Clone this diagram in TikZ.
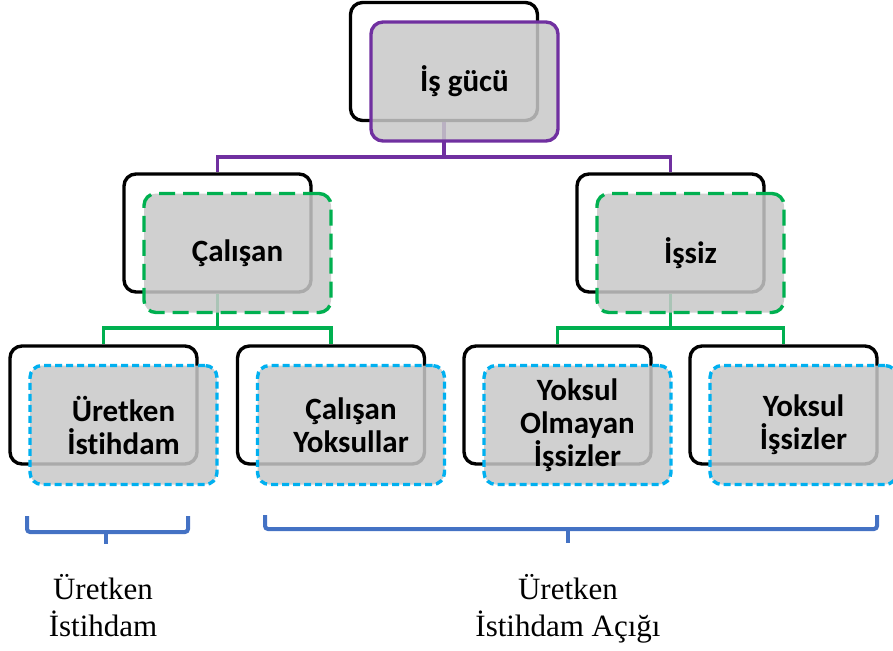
\documentclass[tikz,border=0pt]{standalone}
\usepackage{fontspec}
\setmainfont{Liberation Serif}
\newfontfamily\boxfont[Ligatures=NoCommon]{Carlito}
\usepackage{tikz}
\usetikzlibrary{positioning}
\definecolor{top-purple}{HTML}{7030A0}
\definecolor{mid-green}{HTML}{00B050}
\definecolor{low-blue}{HTML}{00B0F0}
\definecolor{brace-blue}{HTML}{4472C4}
\definecolor{box-gray}{HTML}{C8C8C8}
\tikzset{
    back-box/.style = {draw=black, line width=3.4pt, rectangle, rounded corners=12pt, minimum width=187pt, minimum height=118pt, inner sep=0pt},
    front-box/.style = {fill=box-gray, fill opacity=0.85, text opacity=1, line width=3.4pt, rectangle, rounded corners=12pt, minimum width=187pt, minimum height=119pt, inner sep=0pt, align=center, font=\boxfont\bfseries\fontsize{31}{33}\selectfont},
    purple-box/.style = {front-box, draw=top-purple},
    green-box/.style = {front-box, draw=mid-green, dash pattern=on 16pt off 8pt},
    blue-box/.style = {front-box, draw=low-blue, dash pattern=on 7pt off 4pt},
    purple-line/.style = {draw=top-purple, line width=3.4pt},
    green-line/.style = {draw=mid-green, line width=3.4pt},
    brace-line/.style = {draw=brace-blue, line width=4pt, rounded corners=3pt},
    brace-text/.style = {align=center, font=\fontsize{31}{37}\selectfont},
}
\begin{document}
\begin{tikzpicture}[x=1pt, y=-1pt]
\useasboundingbox (0,0) rectangle (893,650);

% black outlines behind
\node [back-box] (isgucu-back) at (444,61.5) {};
\node [back-box] (calisan-back) at (217.5,233) {};
\node [back-box] (issiz-back) at (670.5,233) {};
\node [back-box] (uretken-back) at (103.5,405) {};
\node [back-box] (yoksullar-back) at (331,405) {};
\node [back-box] (olmayan-back) at (557.5,405) {};
\node [back-box] (yoksulissiz-back) at (783.5,405) {};

% connectors
\coordinate (split-top) at (444,157);
\coordinate (split-left) at (217.5,328);
\coordinate (split-right) at (670.5,328);
\draw [purple-line] (isgucu-back.south) -- (split-top);
\draw [purple-line] (split-top) -| (calisan-back.north);
\draw [purple-line] (split-top) -| (issiz-back.north);
\draw [green-line] (calisan-back.south) -- (split-left);
\draw [green-line] (split-left) -| (uretken-back.north);
\draw [green-line] (split-left) -| (yoksullar-back.north);
\draw [green-line] (issiz-back.south) -- (split-right);
\draw [green-line] (split-right) -| (olmayan-back.north);
\draw [green-line] (split-right) -| (yoksulissiz-back.north);

% gray boxes
\node [purple-box] (isgucu) at (464.5,81.5) {İş gücü};
\node [green-box] (calisan) at (237.5,253) {Çalışan};
\node [green-box] (issiz) at (690.5,253) {İşsiz};
\node [blue-box] (uretken) at (123.5,425) {Üretken\\İstihdam};
\node [blue-box] (yoksullar) at (351,425) {Çalışan\\Yoksullar};
\node [blue-box] (olmayan) at (577.5,425) {Yoksul\\Olmayan\\İşsizler};
\node [blue-box] (yoksulissiz) at (803.5,425) {Yoksul\\İşsizler};

% braces
\draw [brace-line] (27,516) |- (188,532) -- (188,516);
\draw [brace-line] (106,532) -- (106,544);
\draw [brace-line] (265,515) |- (877,529) -- (877,515);
\draw [brace-line] (568,529) -- (568,543);

\node [brace-text] (uretken-label) at (103,606) {Üretken\\İstihdam};
\node [brace-text] (acik-label) at (568,609) {Üretken\\İstihdam Açığı};
\end{tikzpicture}
\end{document}
